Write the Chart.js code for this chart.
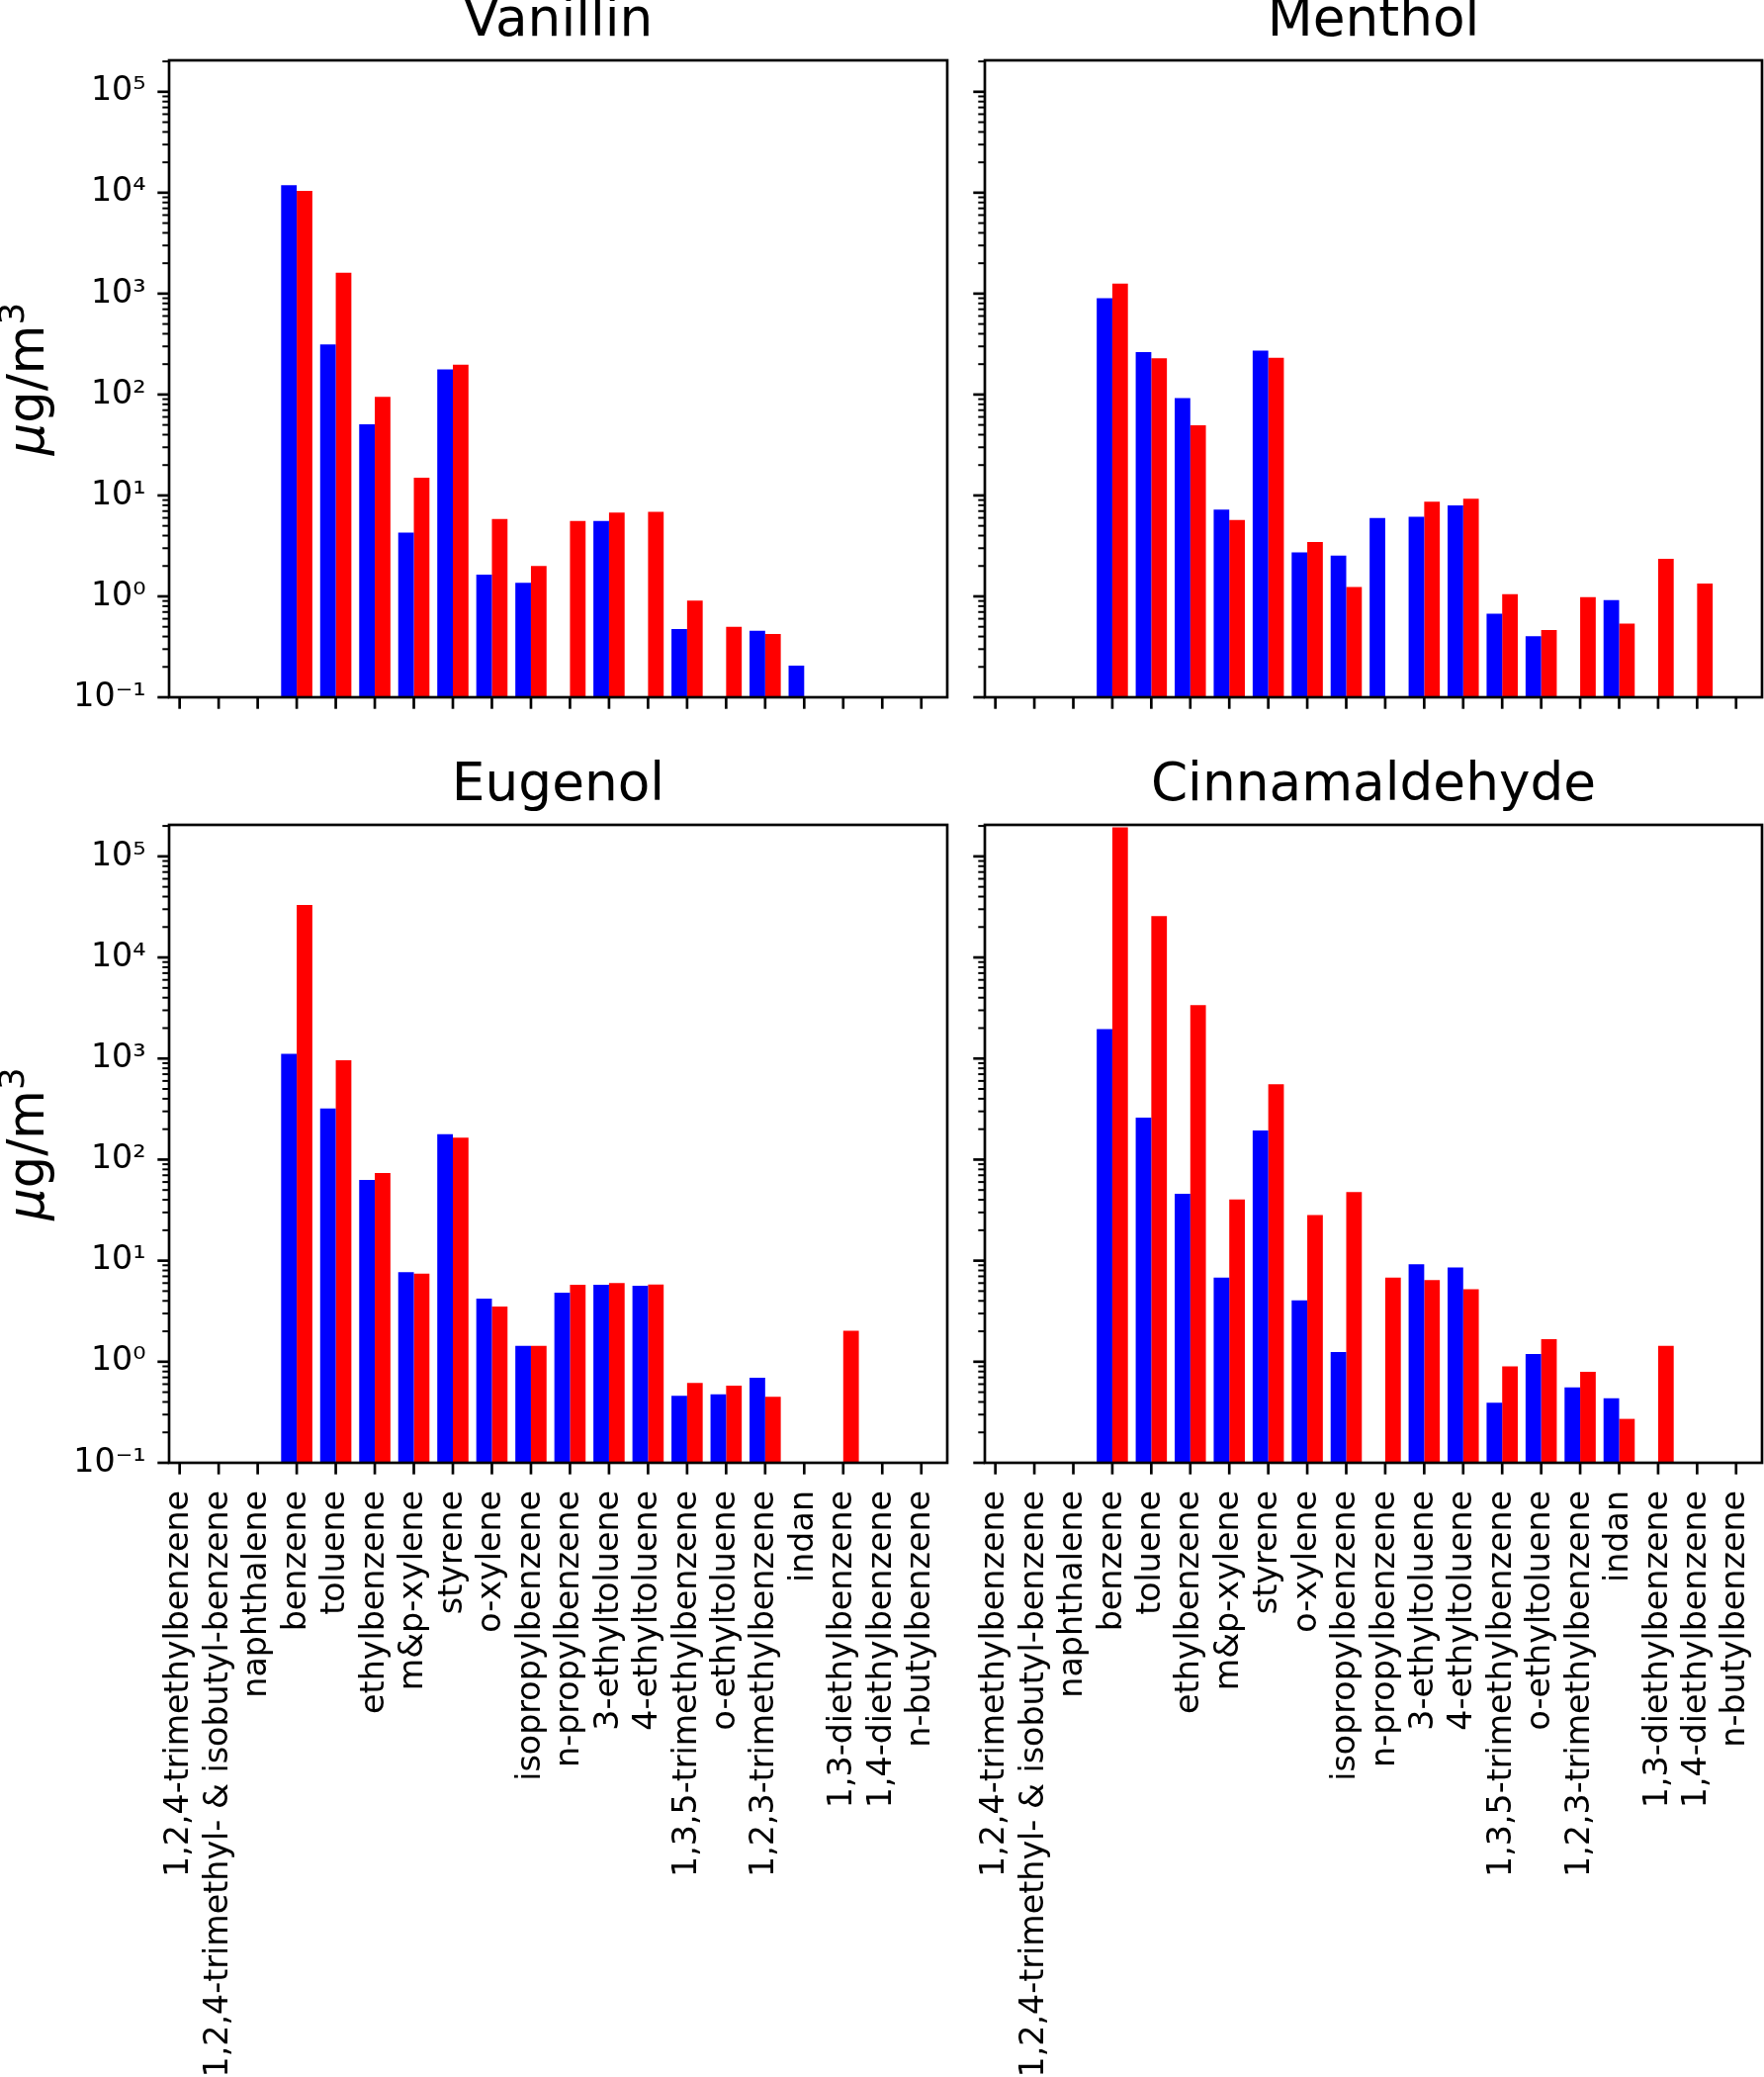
<!DOCTYPE html>
<html>
<head>
<meta charset="utf-8">
<script src="https://cdn.jsdelivr.net/npm/chart.js@4.4.1/dist/chart.umd.min.js"></script>
<style>
html, body { margin: 0; padding: 0; background: #ffffff; }
body { width: 1784px; height: 2100px; position: relative; overflow: hidden; }
canvas { position: absolute; }
</style>
</head>
<body>
<canvas id="c0"></canvas>
<canvas id="c1"></canvas>
<canvas id="c2"></canvas>
<canvas id="c3"></canvas>
<script>
// ---------- data ----------
const categories = [
  '1,2,4-trimethylbenzene',
  '1,2,4-trimethyl- & isobutyl-benzene',
  'naphthalene',
  'benzene',
  'toluene',
  'ethylbenzene',
  'm&p-xylene',
  'styrene',
  'o-xylene',
  'isopropylbenzene',
  'n-propylbenzene',
  '3-ethyltoluene',
  '4-ethyltoluene',
  '1,3,5-trimethylbenzene',
  'o-ethyltoluene',
  '1,2,3-trimethylbenzene',
  'indan',
  '1,3-diethylbenzene',
  '1,4-diethylbenzene',
  'n-butylbenzene'
];

const decadeTicks = [0.1, 1, 10, 100, 1000, 10000, 100000];
const decadeLabels = ['10\u207B\u00B9', '10\u2070', '10\u00B9', '10\u00B2', '10\u00B3', '10\u2074', '10\u2075'];
const minorMultiples = [2, 3, 4, 5, 6, 7, 8, 9];
// y-axis label pieces: italic mu, upright "g/m", superscript "3"
const yLabelMu = '\u03BC', yLabelUnit = 'g/m', yLabelExp = '3';

const vanillinBlue = [null, null, null, 11900, 314, 50.6, 4.28, 177, 1.64, 1.36, null, 5.6, null, 0.475, null, 0.456, 0.206, null, null, null];
const vanillinRed  = [null, null, null, 10400, 1610, 95, 15.0, 198, 5.84, 2.0, 5.6, 6.75, 6.9, 0.91, 0.5, 0.424, null, null, null, null];

const mentholBlue = [null, null, null, 902, 264, 92, 7.26, 273, 2.73, 2.54, 5.96, 6.15, 7.96, 0.675, 0.402, null, 0.92, null, null, null];
const mentholRed  = [null, null, null, 1256, 229, 49.5, 5.72, 231, 3.46, 1.24, null, 8.65, 9.3, 1.05, 0.465, 0.98, 0.537, 2.36, 1.34, null];

const eugenolBlue = [null, null, null, 1111, 320, 63, 7.69, 178, 4.21, 1.44, 4.82, 5.77, 5.65, 0.46, 0.475, 0.693, null, null, null, null];
const eugenolRed  = [null, null, null, 33000, 959, 73.8, 7.45, 165, 3.52, 1.44, 5.77, 6.01, 5.82, 0.617, 0.58, 0.45, null, 2.02, null, null];

const cinnamaldehydeBlue = [null, null, null, 1958, 260, 46, 6.78, 194, 4.04, 1.25, null, 9.2, 8.55, 0.393, 1.19, 0.556, 0.436, null, null, null];
const cinnamaldehydeRed  = [null, null, null, 194000, 25700, 3375, 40.4, 558, 28.2, 47.7, 6.78, 6.44, 5.22, 0.9, 1.67, 0.794, 0.272, 1.44, null, null];

// ---------- style / layout ----------
const FONT = 'DejaVu Sans';
const Y_MIN = 0.1, Y_MAX = 205000;
const X_MIN = -0.27, X_MAX = 19.665;
const BLUE = '#0000ff', RED = '#ff0000';

const panels = [
  { id: 'c0', title: 'Vanillin', blue: vanillinBlue, red: vanillinRed,
    left: 0, top: 0, w: 975, h: 760, aL: 171, aT: 61, aR: 958, aB: 705, showY: true, showX: false },
  { id: 'c1', title: 'Menthol', blue: mentholBlue, red: mentholRed,
    left: 975, top: 0, w: 809, h: 760, aL: 996, aT: 61, aR: 1782, aB: 705, showY: false, showX: false },
  { id: 'c2', title: 'Eugenol', blue: eugenolBlue, red: eugenolRed,
    left: 0, top: 760, w: 975, h: 1340, aL: 171, aT: 834, aR: 958, aB: 1479, showY: true, showX: true },
  { id: 'c3', title: 'Cinnamaldehyde', blue: cinnamaldehydeBlue, red: cinnamaldehydeRed,
    left: 975, top: 760, w: 809, h: 1340, aL: 996, aT: 834, aR: 1782, aB: 1479, showY: false, showX: true }
];

const TITLE_SIZE = 53.3, TITLE_LH = 0.8;
const TICK_SIZE = 33.3;
const YLABEL_SIZE = 51;
const MAJOR_LEN = 11.7, MINOR_LEN = 6.7, MAJOR_W = 2.67, MINOR_W = 2.0;

const mplAxes = {
  id: 'mplAxes',
  afterDraw(chart, args, opts) {
    const { ctx, chartArea: a } = chart;
    const x = chart.scales.x, y = chart.scales.y;
    ctx.save();
    ctx.strokeStyle = '#000000';
    ctx.lineCap = 'butt';
    const seg = (x1, y1, x2, y2) => { ctx.beginPath(); ctx.moveTo(x1, y1); ctx.lineTo(x2, y2); ctx.stroke(); };
    // y ticks (major + minor)
    decadeTicks.forEach(v => {
      ctx.lineWidth = MAJOR_W;
      const py = y.getPixelForValue(v);
      seg(a.left - MAJOR_LEN, py, a.left, py);
      ctx.lineWidth = MINOR_W;
      minorMultiples.forEach(k => {
        const mv = v * k;
        if (mv <= Y_MAX) {
          const my = y.getPixelForValue(mv);
          seg(a.left - MINOR_LEN, my, a.left, my);
        }
      });
    });
    // x ticks
    ctx.lineWidth = MAJOR_W;
    categories.forEach((c, i) => {
      const px = x.getPixelForValue(i);
      seg(px, a.bottom, px, a.bottom + MAJOR_LEN);
    });
    // frame (spines)
    ctx.lineWidth = MAJOR_W;
    ctx.strokeRect(a.left, a.top, a.right - a.left, a.bottom - a.top);

    // y-axis label (mathtext-like: italic mu, superscript 3)
    if (opts && opts.showYLabel) {
      const cy = (a.top + a.bottom) / 2;
      const baseX = 44;
      ctx.fillStyle = '#000000';
      ctx.textBaseline = 'alphabetic';
      ctx.textAlign = 'left';
      const fMu = `oblique ${YLABEL_SIZE}px "${FONT}"`;
      const fUnit = `${YLABEL_SIZE}px "${FONT}"`;
      const fExp = `${YLABEL_SIZE * 0.7}px "${FONT}"`;
      ctx.font = fMu; const w1 = ctx.measureText(yLabelMu).width;
      ctx.font = fUnit; const w2 = ctx.measureText(yLabelUnit).width;
      ctx.font = fExp; const w3 = ctx.measureText(yLabelExp).width;
      const total = w1 + w2 + w3;
      ctx.translate(baseX, cy);
      ctx.rotate(-Math.PI / 2);
      let u = -total / 2;
      ctx.font = fMu; ctx.fillText(yLabelMu, u, 0); u += w1;
      ctx.font = fUnit; ctx.fillText(yLabelUnit, u, 0); u += w2;
      ctx.font = fExp; ctx.fillText(yLabelExp, u, -0.4 * YLABEL_SIZE);
    }
    ctx.restore();
  }
};

Chart.defaults.font.family = FONT;
Chart.defaults.color = '#000000';

function makeChart(p) {
  const cv = document.getElementById(p.id);
  cv.width = p.w; cv.height = p.h;
  cv.style.left = p.left + 'px'; cv.style.top = p.top + 'px';
  cv.style.width = p.w + 'px'; cv.style.height = p.h + 'px';
  const titleBox = p.aT - p.top;
  const lineH = TITLE_SIZE * TITLE_LH;
  const baseline = titleBox - 20.3;
  const mid = baseline - 0.346 * TITLE_SIZE;
  const padTop = mid - lineH / 2;
  const padBottom = titleBox - lineH - padTop;
  const yAxisWidth = p.aL - p.left;
  const xAxisHeight = (p.top + p.h) - p.aB;
  const padRight = (p.left + p.w) - p.aR;

  return new Chart(cv, {
    type: 'bar',
    data: {
      datasets: [
        { label: 'blue', data: p.blue.map((v, i) => ({ x: i, y: v })), backgroundColor: BLUE, borderWidth: 0 },
        { label: 'red', data: p.red.map((v, i) => ({ x: i, y: v })), backgroundColor: RED, borderWidth: 0 }
      ]
    },
    options: {
      responsive: false,
      animation: false,
      events: [],
      categoryPercentage: 0.8,
      barPercentage: 1.0,
      layout: { padding: { left: 0, top: 0, right: padRight, bottom: 0 } },
      plugins: {
        legend: { display: false },
        tooltip: { enabled: false },
        title: {
          display: true, text: p.title, fullSize: false, color: '#000000',
          font: { family: FONT, size: TITLE_SIZE, lineHeight: TITLE_LH, weight: 'normal' },
          padding: { top: padTop, bottom: padBottom }
        },
        mplAxes: { showYLabel: p.showY }
      },
      scales: {
        x: {
          type: 'linear', min: X_MIN, max: X_MAX, offset: false,
          grid: { display: false, drawTicks: false }, border: { display: false },
          afterBuildTicks: s => { s.ticks = categories.map((c, i) => ({ value: i })); },
          ticks: {
            display: p.showX, autoSkip: false, minRotation: 90, maxRotation: 90, padding: 28,
            font: { family: FONT, size: TICK_SIZE }, color: '#000000',
            callback: (v, i) => categories[i]
          },
          afterFit: s => { s.height = xAxisHeight; s.paddingLeft = 0; s.paddingRight = 0; }
        },
        y: {
          type: 'logarithmic', min: Y_MIN, max: Y_MAX,
          grid: { display: false, drawTicks: false }, border: { display: false },
          afterBuildTicks: s => { s.ticks = decadeTicks.map(v => ({ value: v })); },
          ticks: {
            display: p.showY, padding: 23.4, autoSkip: false,
            font: { family: FONT, size: TICK_SIZE }, color: '#000000',
            callback: (v, i) => decadeLabels[i]
          },
          afterFit: s => { s.width = yAxisWidth; s.paddingTop = 0; s.paddingBottom = 0; }
        }
      }
    },
    plugins: [mplAxes]
  });
}

panels.forEach(makeChart);
</script>
</body>
</html>
